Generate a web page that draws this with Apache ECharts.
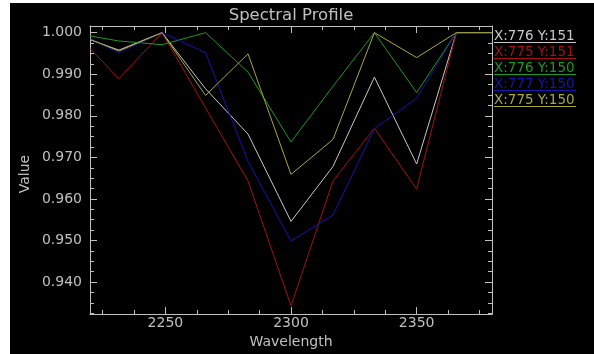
<!DOCTYPE html>
<html><head><meta charset="utf-8">
<script src="https://cdn.jsdelivr.net/npm/echarts@6/dist/echarts.min.js"></script>
<style>
html,body{margin:0;padding:0;background:#fff;overflow:hidden;}
#bg{position:absolute;left:10px;top:3px;width:584px;height:351px;background:#000;}
#chart{position:absolute;left:0;top:0;width:594px;height:354px;}
</style></head><body>
<div id="bg"></div><div id="chart"></div>
<script>
// ---- data ----
const wavelengths = [2220, 2231.5, 2248.7, 2266, 2282.9, 2300, 2316.7, 2333.2, 2350, 2365.8, 2380];
const seriesNames = ['X:776 Y:151', 'X:775 Y:151', 'X:776 Y:150', 'X:777 Y:150', 'X:775 Y:150'];
const px776_151 = [0.9983, 0.9958, 1.0, 0.9865, 0.9756, 0.9546, 0.9678, 0.9893, 0.9684, 1.0, 1.0];
const px775_151 = [0.9962, 0.9889, 1.0, 0.9819, 0.9643, 0.9343, 0.9643, 0.9770, 0.9624, 1.0, 1.0];
const px776_150 = [0.9992, 0.9980, 0.9971, 1.0, 0.9905, 0.9737, 0.9871, 1.0, 0.9856, 1.0, 1.0];
const px777_150 = [0.9985, 0.9952, 1.0, 0.9952, 0.9690, 0.9499, 0.9561, 0.9769, 0.9842, 1.0, 1.0];
const px775_150 = [0.9984, 0.9956, 1.0, 0.9849, 0.9949, 0.9659, 0.9743, 1.0, 0.9940, 1.0, 1.0];
const xTickLabels = [2250, 2300, 2350];
const yTickLabels = [0.940, 0.950, 0.960, 0.970, 0.980, 0.990, 1.000];

// ---- styling ----
const seriesValues = [px776_151, px775_151, px776_150, px777_150, px775_150];
const colors = ['#c8c8c8', '#a81010', '#1c9a1c', '#1414b0', '#a8a83c'];
const AX = '#c0c0c0';
const FONT = 'DejaVu Sans';
const xMin = 2220, xMax = 2380, yMin = 0.9323, yMax = 1.0016;

const xMinor = [];
for (let v = 2225; v < xMax; v += 12.5) if (!xTickLabels.includes(v)) xMinor.push(v);
const yMinor = [];
for (let k = 0; ; k++) {
  const v = Math.round((0.9325 + 0.0025 * k) * 10000) / 10000;
  if (v > 1.0) break;
  if (!yTickLabels.some(t => Math.abs(t - v) < 1e-6)) yMinor.push(v);
}

function mkX(pos, major, showLabel, showLine, name) {
  return {
    type: 'value', position: pos, min: xMin, max: xMax,
    name: name || '', nameLocation: 'middle', nameGap: 13,
    nameTextStyle: {color: AX, fontFamily: FONT, fontSize: 14},
    axisLine: {show: showLine, onZero: false, lineStyle: {color: AX, width: 1}},
    axisTick: {show: true, inside: true, length: major ? 7 : 4,
      customValues: major ? xTickLabels : xMinor, lineStyle: {color: AX, width: 1}},
    axisLabel: {show: showLabel, customValues: xTickLabels, margin: 2,
      color: AX, fontFamily: FONT, fontSize: 14, formatter: v => String(Math.round(v))},
    splitLine: {show: false}
  };
}
function mkY(pos, major, showLabel, showLine) {
  return {
    type: 'value', position: pos, min: yMin, max: yMax,
    axisLine: {show: showLine, onZero: false, lineStyle: {color: AX, width: 1}},
    axisTick: {show: true, inside: true, length: major ? 7 : 4,
      customValues: major ? yTickLabels : yMinor, lineStyle: {color: AX, width: 1}},
    axisLabel: {show: showLabel, customValues: yTickLabels, margin: 8,
      color: AX, fontFamily: FONT, fontSize: 14, formatter: v => v.toFixed(3)},
    splitLine: {show: false}
  };
}

const chart = echarts.init(document.getElementById('chart'), null, {renderer: 'canvas'});
const graphic = [
  {type: 'text', x: 291, y: 16, style: {text: 'Spectral Profile', fill: AX,
    font: '16.5px "DejaVu Sans"', align: 'center', verticalAlign: 'middle'}},
  {type: 'text', x: 25, y: 174, rotation: Math.PI / 2, style: {text: 'Value', fill: AX,
    font: '14px "DejaVu Sans"', align: 'center', verticalAlign: 'middle'}}
];
seriesNames.forEach((n, i) => {
  graphic.push({type: 'text', x: 494, y: 36 + 16 * i, style: {text: n, fill: colors[i],
    font: '13.5px "DejaVu Sans"', align: 'left', verticalAlign: 'middle'}});
  graphic.push({type: 'line', shape: {x1: 494, y1: 42.5 + 16 * i, x2: 576, y2: 42.5 + 16 * i},
    style: {stroke: colors[i], lineWidth: 1}});
});

chart.setOption({
  animation: false,
  backgroundColor: 'transparent',
  grid: {left: 90, right: 102, top: 26, bottom: 32, containLabel: false},
  xAxis: [
    mkX('bottom', true, true, true, 'Wavelength'),
    mkX('bottom', false, false, false),
    mkX('top', true, false, true),
    mkX('top', false, false, false)
  ],
  yAxis: [
    mkY('left', true, true, true),
    mkY('left', false, false, false),
    mkY('right', true, false, true),
    mkY('right', false, false, false)
  ],
  graphic: graphic,
  series: seriesNames.map((n, i) => ({
    name: n, type: 'line', xAxisIndex: 0, yAxisIndex: 0,
    data: wavelengths.map((w, j) => [w, seriesValues[i][j]]),
    showSymbol: false, symbol: 'none', clip: true,
    lineStyle: {color: colors[i], width: 1}, itemStyle: {color: colors[i]},
    emphasis: {disabled: true}
  }))
});
</script>
</body></html>
